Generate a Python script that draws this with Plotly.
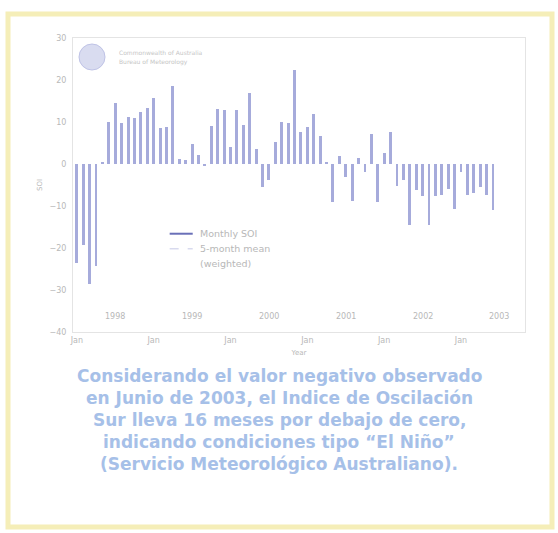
import plotly.graph_objects as go

# Monthly SOI, Jan 1998 .. Jun 2003
years = [1998, 1999, 2000, 2001, 2002, 2003]
soi_1998 = [-23.5, -19.2, -28.5, -24.4, 0.5, 9.9, 14.6, 9.8, 11.1, 10.9, 12.5, 13.3]
soi_1999 = [15.6, 8.6, 8.9, 18.5, 1.3, 1.0, 4.8, 2.1, -0.4, 9.1, 13.1, 12.8]
soi_2000 = [4.0, 12.9, 9.4, 16.8, 3.6, -5.5, -3.7, 5.3, 9.9, 9.7, 22.4, 7.7]
soi_2001 = [8.9, 11.9, 6.7, 0.3, -9.0, 1.8, -3.0, -8.9, 1.4, -1.9, 7.2, -9.1]
soi_2002 = [2.7, 7.7, -5.2, -3.8, -14.5, -6.3, -7.6, -14.6, -7.6, -7.4, -6.0, -10.6]
soi_2003 = [-2.0, -7.4, -6.8, -5.5, -7.4, -11.0]
soi = soi_1998 + soi_1999 + soi_2000 + soi_2001 + soi_2002 + soi_2003
month_idx = list(range(len(soi)))

y_ticks = [30, 20, 10, 0, -10, -20, -30, -40]
x_tick_text = ["Jan"] * len(years)
legend_labels = ["Monthly SOI", "5-month mean", "(weighted)"]
caption_lines = [
    "Considerando el valor negativo observado",
    "en Junio de 2003, el Indice de Oscilación",
    "Sur lleva 16 meses por debajo de cero,",
    "indicando condiciones tipo \u201cEl Niño\u201d",
    "(Servicio Meteorológico Australiano).",
]

W, H = 558, 533
L, R, T, B = 73, 525, 38, 332


def px(x):
    return (x - L) / (R - L)


def py(y):
    return (B - y) / (B - T)


fig = go.Figure()
fig.add_trace(go.Bar(
    x=month_idx, y=soi, width=0.45,
    marker=dict(color="#a6abdb", line=dict(width=0)),
    showlegend=False,
))

grey = "#b8b8b8"
fig.update_layout(
    width=W, height=H,
    margin=dict(l=L, r=W - R, t=T, b=H - B),
    paper_bgcolor="white", plot_bgcolor="white",
    font=dict(family="DejaVu Sans", size=8, color=grey),
    bargap=0,
    xaxis=dict(
        range=[-0.6, 70], showgrid=False, zeroline=False,
        tickmode="array", tickvals=[12 * k for k in range(len(years))],
        ticktext=x_tick_text, ticks="", showline=True, linecolor="#e4e4e4",
        mirror=True, tickfont=dict(size=8, color=grey),
        title=dict(text="Year", font=dict(size=7, color=grey), standoff=6),
    ),
    yaxis=dict(
        range=[-40, 30], showgrid=False, zeroline=False,
        tickmode="array", tickvals=y_ticks, ticks="",
        showline=True, linecolor="#e4e4e4", mirror=True,
        tickfont=dict(size=8, color=grey), ticklabelstandoff=4,
        title=dict(text="SOI", font=dict(size=7, color=grey), standoff=6),
    ),
)

# Year labels inside the plot near the bottom
for k, yr in enumerate(years):
    fig.add_annotation(x=6 + 12 * k, y=-36.4, text=str(yr), showarrow=False,
                       yanchor="middle", font=dict(size=8, color=grey))

# Legend (drawn manually)
fig.add_shape(type="line", x0=14.5, x1=18.1, y0=-16.6, y1=-16.6,
              line=dict(color="#6a70b8", width=2))
fig.add_shape(type="line", x0=14.5, x1=18.1, y0=-20.2, y1=-20.2,
              line=dict(color="#c5c8e6", width=1, dash="dash"))
for txt, yy in zip(legend_labels, [-16.6, -20.2, -23.8]):
    fig.add_annotation(x=19.0, y=yy, text=txt, showarrow=False, xanchor="left",
                       yanchor="middle", font=dict(size=9.5, color=grey))

# Logo box
fig.add_shape(type="circle", xref="paper", yref="paper",
              x0=px(79), x1=px(105), y0=py(70), y1=py(44),
              fillcolor="#d9dcf0", line=dict(color="#bfc3e6", width=1))
fig.add_annotation(xref="paper", yref="paper", x=px(117), y=py(52), text="Commonwealth of Australia",
                   showarrow=False, xanchor="left", yanchor="middle",
                   font=dict(size=6, color="#c6c6c6"))
fig.add_annotation(xref="paper", yref="paper", x=px(117), y=py(62), text="Bureau of Meteorology",
                   showarrow=False, xanchor="left", yanchor="middle",
                   font=dict(size=6, color="#c6c6c6"))

# Caption, one line at a time
for n, line in enumerate(caption_lines):
    fig.add_annotation(xref="paper", yref="paper", x=px(279), y=py(376 + 22 * n),
                       text="<b>" + line + "</b>", showarrow=False,
                       xanchor="center", yanchor="middle",
                       font=dict(family="DejaVu Sans", size=17, color="#a6c0e8"))

# Yellow frame
fig.add_shape(type="rect", xref="paper", yref="paper",
              x0=px(8), x1=px(552), y0=py(527), y1=py(14),
              line=dict(color="#f5eeb8", width=5), layer="below")

fig.write_html(
    "out.html",
    config={"displayModeBar": False},
    post_script="document.body.style.margin='0';document.body.style.overflow='hidden';",
)
